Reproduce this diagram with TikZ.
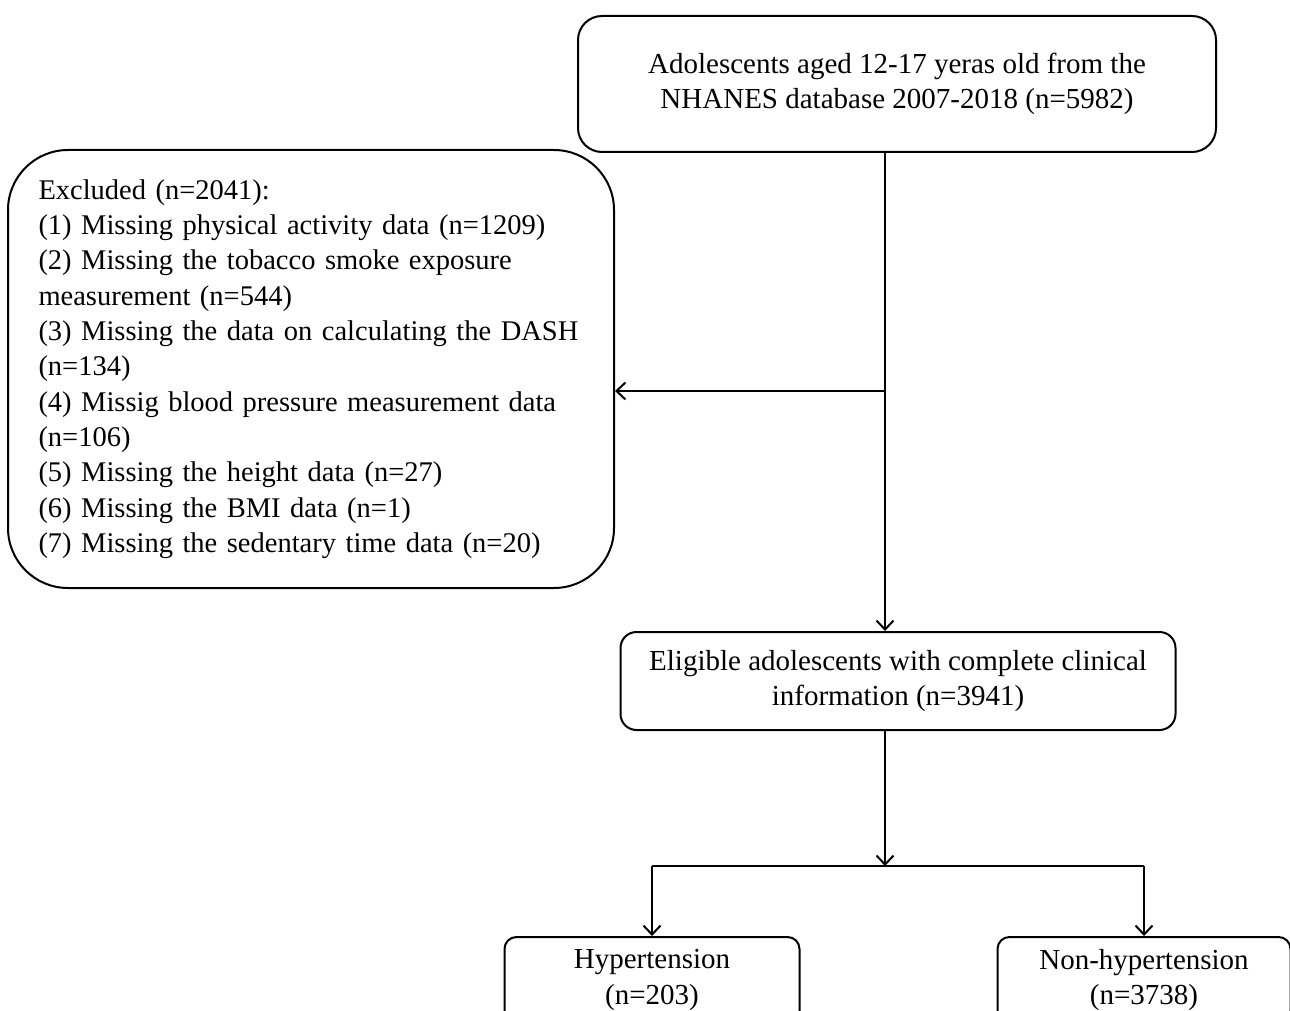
\documentclass[tikz,border=0pt]{standalone}
\usepackage{fontspec}
\setmainfont{Liberation Serif}
\usetikzlibrary{arrows.meta,positioning}

\begin{document}
\begin{tikzpicture}[x=1pt, y=-1pt,
    box/.style={draw, line width=2pt, align=center, inner sep=0pt,
                font=\fontsize{29}{35.3}\selectfont},
    arr/.style={line width=2pt, -{Straight Barb[length=9pt,width=17pt,line width=2pt]}},
    link/.style={line width=2pt}]
    \useasboundingbox (0,0) rectangle (1290,1011);
    % boxes
    \node[box, rounded corners=24pt, minimum width=638pt, minimum height=136pt] (source) at (897,84)
        {Adolescents aged 12-17 yeras old from the\\ NHANES database 2007-2018 (n=5982)};
    \node[box, rounded corners=60pt, minimum width=606pt, minimum height=438pt,
          align=left, text width=545pt, font=\fontsize{28.5}{35.3}\selectfont] (excluded) at (311,369)
        {Excluded (n=2041):\\
         (1) Missing physical activity data (n=1209)\\
         (2) Missing the tobacco smoke exposure\\
         measurement (n=544)\\
         (3) Missing the data on calculating the DASH\\
         (n=134)\\
         (4) Missig blood pressure measurement data\\
         (n=106)\\
         (5) Missing the height data (n=27)\\
         (6) Missing the BMI data (n=1)\\
         (7) Missing the sedentary time data (n=20)};
    \node[box, rounded corners=16pt, minimum width=555pt, minimum height=98pt] (eligible) at (898,681)
        {Eligible adolescents with complete clinical\\ information (n=3941)};
    \node[box, rounded corners=12pt, minimum width=295pt, minimum height=86pt] (hyper) at (652,980)
        {Hypertension\\ (n=203)};
    \node[box, rounded corners=12pt, minimum width=293pt, minimum height=86pt] (nonhyper) at (1144,980)
        {Non-hypertension\\ (n=3738)};
    % connectors
    \coordinate (split) at (885,391);
    \coordinate (fork) at (885,866);
    \draw[arr] (source.south -| split) -- (eligible.north -| split);
    \draw[arr] (split) -- (excluded.east |- split);
    \draw[arr] (eligible.south -| fork) -- (fork);
    \draw[link] (hyper.north |- fork) -- (nonhyper.north |- fork);
    \draw[arr] (hyper.north |- fork) -- (hyper.north);
    \draw[arr] (nonhyper.north |- fork) -- (nonhyper.north);
\end{tikzpicture}
\end{document}
